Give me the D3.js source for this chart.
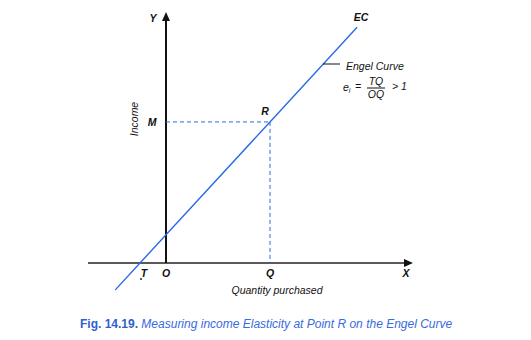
<!DOCTYPE html>
<html>
<head>
<meta charset="utf-8">
<script src="https://cdn.jsdelivr.net/npm/d3@7"></script>
<style>
  body { margin: 0; background: #fff; }
  svg { display: block; font-family: "Liberation Sans", Arial, sans-serif; }
  .lbl { font-style: italic; font-weight: bold; font-size: 10.5px; fill: #111; }
  .note { font-style: italic; font-size: 10.5px; fill: #111; }
</style>
</head>
<body>
<svg width="531" height="340"></svg>
<script>
// Engel curve (quantity, income)
const curveQty = [-1.95, -1, 4, 7.35];
const curveIncome = [-1.07, 0, 5.62, 9.39];
// point R and its projections
const pointR = { q: 4, inc: 5.62 };
const pointT = -1;

const svg = d3.select('svg');

const xScale = d3.scaleLinear().domain([-3, 9.5]).range([88, 413]);
const yScale = d3.scaleLinear().domain([0, 10]).range([263, 12]);

const blue = '#2c6be6';

// axes
svg.append('line')
  .attr('x1', xScale(-3)).attr('x2', xScale(9.5) - 6)
  .attr('y1', yScale(0)).attr('y2', yScale(0))
  .attr('stroke', '#2a1f1f').attr('stroke-width', 1.6);
svg.append('path')
  .attr('d', `M${xScale(9.5)},${yScale(0)} l-9,-4 v8 z`)
  .attr('fill', '#111');

svg.append('line')
  .attr('x1', xScale(0)).attr('x2', xScale(0))
  .attr('y1', yScale(0)).attr('y2', yScale(10) + 6)
  .attr('stroke', '#111').attr('stroke-width', 2);
svg.append('path')
  .attr('d', `M${xScale(0)},${yScale(10)} l-4,9 h8 z`)
  .attr('fill', '#111');

// dashed projections from R
svg.append('line')
  .attr('x1', xScale(0)).attr('x2', xScale(pointR.q))
  .attr('y1', yScale(pointR.inc)).attr('y2', yScale(pointR.inc))
  .attr('stroke', blue).attr('stroke-width', 1).attr('stroke-dasharray', '4,3');
svg.append('line')
  .attr('x1', xScale(pointR.q)).attr('x2', xScale(pointR.q))
  .attr('y1', yScale(pointR.inc)).attr('y2', yScale(0))
  .attr('stroke', blue).attr('stroke-width', 1).attr('stroke-dasharray', '4,3');

// Engel curve
const line = d3.line()
  .x((d, i) => xScale(curveQty[i]))
  .y(d => yScale(d));
svg.append('path')
  .datum(curveIncome)
  .attr('d', line)
  .attr('fill', 'none')
  .attr('stroke', blue)
  .attr('stroke-width', 1.4);

// point labels
const labels = [
  { t: 'Y', x: 153, y: 22 },
  { t: 'M', x: 152, y: 126 },
  { t: 'R', x: 265, y: 115 },
  { t: 'EC', x: 361, y: 21 },
  { t: 'T', x: xScale(pointT) + 4, y: 277 },
  { t: 'O', x: xScale(0), y: 277 },
  { t: 'Q', x: xScale(pointR.q), y: 277 },
  { t: 'X', x: 406, y: 277 }
];
svg.selectAll('text.lbl').data(labels).enter().append('text')
  .attr('class', 'lbl')
  .attr('text-anchor', 'middle')
  .attr('x', d => d.x).attr('y', d => d.y)
  .text(d => d.t);
svg.append('circle').attr('cx', 141).attr('cy', 279).attr('r', 0.9).attr('fill', '#111');

// axis titles
svg.append('text')
  .attr('class', 'note')
  .attr('text-anchor', 'middle')
  .attr('transform', 'translate(138,119) rotate(-90)')
  .text('Income');
svg.append('text')
  .attr('class', 'note')
  .attr('text-anchor', 'middle')
  .attr('x', 277).attr('y', 294)
  .text('Quantity purchased');

// annotation
svg.append('line')
  .attr('x1', 323).attr('x2', 340).attr('y1', 64).attr('y2', 64)
  .attr('stroke', '#111').attr('stroke-width', 1);
svg.append('text').attr('class', 'note')
  .attr('x', 346).attr('y', 70).text('Engel Curve');

const f = svg.append('g').attr('class', 'note');
const e = f.append('text').attr('class', 'note').attr('x', 343).attr('y', 91);
e.append('tspan').text('e');
e.append('tspan').attr('font-size', 7).attr('dy', 2).text('i');
f.append('text').attr('class', 'note').attr('x', 355).attr('y', 90).text('=');
f.append('text').attr('class', 'note').attr('text-anchor', 'middle')
  .attr('x', 376).attr('y', 85).text('TQ');
f.append('line').attr('x1', 367).attr('x2', 385).attr('y1', 88).attr('y2', 88)
  .attr('stroke', '#111').attr('stroke-width', 1);
f.append('text').attr('class', 'note').attr('text-anchor', 'middle')
  .attr('x', 376).attr('y', 98).text('OQ');
f.append('text').attr('class', 'note').attr('x', 392).attr('y', 90).text('> 1');

// caption
const cap = svg.append('text')
  .attr('x', 80).attr('y', 328)
  .attr('font-size', 12)
  .attr('fill', '#2f5fd0');
cap.append('tspan').attr('font-weight', 'bold').text('Fig. 14.19. ');
cap.append('tspan').attr('font-style', 'italic').attr('fill', '#3a6ae0')
  .text('Measuring income Elasticity at Point R on the Engel Curve');
</script>
</body>
</html>
